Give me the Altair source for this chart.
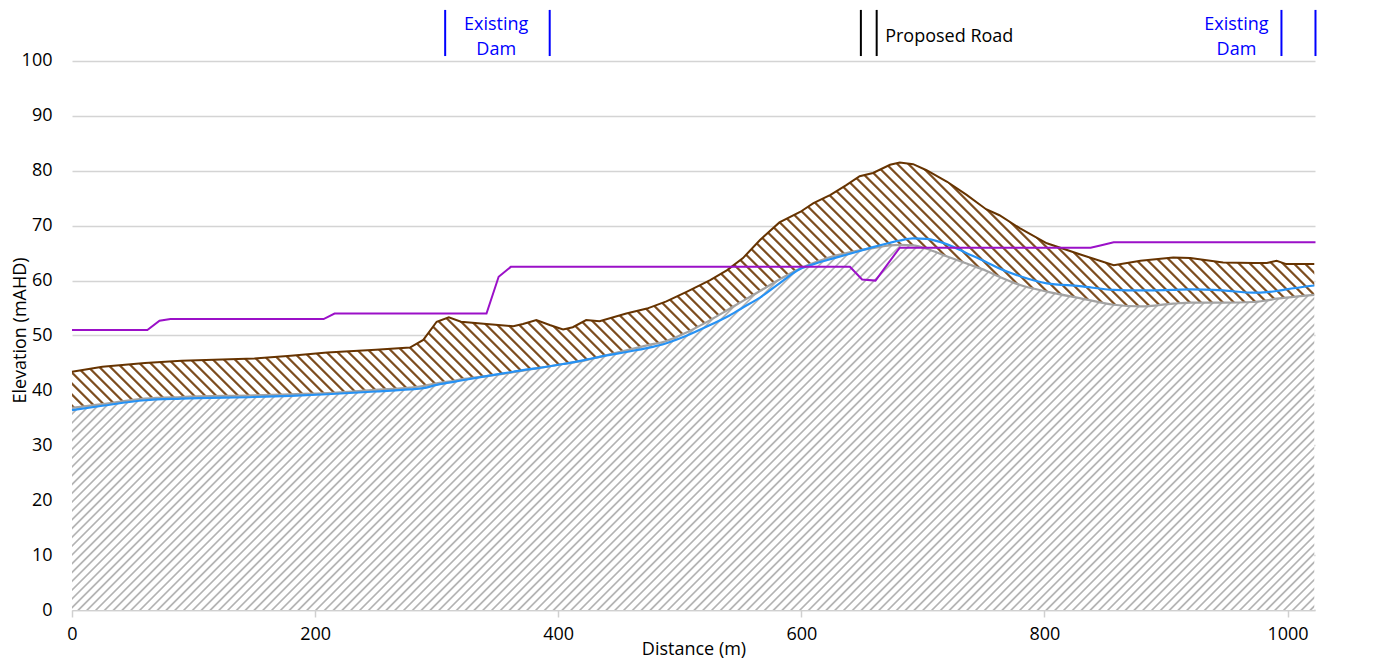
import math
import altair as alt
import pandas as pd

# ---------------- data ----------------
distance = [0, 25, 60, 90, 150, 180, 210, 250, 278, 289, 300, 310, 320, 341, 363, 371,
            382, 393, 404, 412, 423, 434, 456, 473, 489, 506, 525, 539, 552, 566, 582,
            599, 610, 624, 637, 648, 659, 673, 681, 692, 703, 720, 736, 752, 763, 780,
            802, 829, 857, 879, 906, 920, 947, 972, 983, 991, 999, 1022]
top_surface = [43.4, 44.3, 45.0, 45.4, 45.8, 46.3, 46.9, 47.4, 47.8, 49.2, 52.5, 53.3, 52.5,
               52.1, 51.7, 52.1, 52.8, 51.9, 51.1, 51.5, 52.8, 52.6, 54.0, 54.9, 56.2, 58.0,
               60.1, 61.9, 64.1, 67.4, 70.6, 72.5, 74.1, 75.6, 77.4, 79.0, 79.6, 81.1, 81.5,
               81.2, 80.1, 78.0, 75.6, 73.0, 71.9, 69.5, 66.8, 64.8, 62.8, 63.6, 64.2, 64.1,
               63.3, 63.2, 63.2, 63.6, 63.0, 63.0]
existing_ground = [36.8, 37.5, 38.5, 38.8, 39.1, 39.3, 39.5, 40.1, 40.5, 40.8, 41.3, 41.6,
                   42.0, 42.6, 43.3, 43.6, 44.0, 44.4, 44.8, 45.1, 45.5, 46.1, 47.3, 48.2,
                   49.0, 50.6, 52.8, 54.6, 56.3, 58.1, 60.2, 62.2, 63.2, 64.3, 65.0, 65.5,
                   65.9, 66.4, 66.5, 66.4, 65.8, 64.4, 63.1, 61.8, 60.7, 59.2, 58.0, 56.8,
                   55.6, 55.3, 55.8, 56.0, 56.0, 56.1, 56.4, 56.7, 56.9, 57.4]
water_level = [36.4, 37.2, 38.2, 38.5, 38.8, 39.0, 39.3, 39.8, 40.2, 40.4, 41.0, 41.4, 41.8,
               42.6, 43.4, 43.7, 44.0, 44.4, 44.8, 45.1, 45.6, 46.1, 47.0, 47.7, 48.6, 50.0,
               51.9, 53.4, 55.1, 56.9, 59.5, 62.1, 63.0, 63.9, 64.7, 65.4, 66.1, 66.9, 67.3,
               67.7, 67.6, 66.6, 65.0, 63.4, 62.2, 60.8, 59.5, 59.0, 58.3, 58.2, 58.3, 58.4,
               58.2, 57.8, 57.9, 58.1, 58.4, 59.1]
design_distance = [0, 62, 72, 81, 207, 216, 341, 351, 361, 640, 650, 661, 681, 838, 846, 857, 1023]
design_level = [51.0, 51.0, 52.7, 53.0, 53.0, 54.0, 54.0, 60.7, 62.5, 62.5, 60.2, 60.0, 66.0,
                66.0, 66.4, 67.0, 67.0]

dam_marker_x = [307, 393, 995, 1023]
road_marker_x = [649, 662]
dam_label_x = [349, 958]
dam_label_text = ["Existing\nDam", "Existing\nDam"]
road_label_x = [669]
road_label_text = ["Proposed Road"]
x_ticks = [0, 200, 400, 600, 800, 1000]
y_ticks = [0, 10, 20, 30, 40, 50, 60, 70, 80, 90, 100]

# ---------------- layout ----------------
X_MAX = 1022.6
Y_MAX = 109.65
W, H = 1243, 602
PX_X = W / X_MAX
PX_Y = H / Y_MAX
FONT = "Open Sans"

profile = pd.DataFrame({"dist": distance, "surface": top_surface,
                        "ground": existing_ground, "water": water_level})
design = pd.DataFrame({"dist": design_distance, "level": design_level})


def hatch(w, h, period, ink, soft, core, rising):
    span = w + h
    n = math.ceil(span / period)
    stops = []
    last = -1.0
    for k in range(n):
        base = k * period
        for f, c in ((0.0, "#ffffff"), (soft, ink), (soft + core, ink),
                     (2 * soft + core, "#ffffff")):
            off = round((base + f * period) / span, 6)
            if off <= 1 and off >= last:
                stops.append(alt.GradientStop(offset=off, color=c))
                last = off
    kk = span / (w * w + h * h)
    if rising:
        return alt.LinearGradient(gradient="linear", stops=stops,
                                  x1=0, y1=0, x2=kk * w, y2=kk * h)
    return alt.LinearGradient(gradient="linear", stops=stops,
                              x1=0, y1=1, x2=kk * w, y2=1 - kk * h)


gw = (max(distance) - min(distance)) * PX_X
gray_h = max(existing_ground) * PX_Y
brown_h = (max(top_surface) - min(existing_ground)) * PX_Y
gray_fill = hatch(gw, gray_h, 8.8, "#b2b2b2", 0.17, 0.1, True)
brown_fill = hatch(gw, brown_h, 11.0, "#7e4e20", 0.13, 0.16, False)

x_scale = alt.Scale(domain=[0, X_MAX], nice=False, zero=False)
y_scale = alt.Scale(domain=[0, Y_MAX], nice=False)
x_axis = alt.Axis(values=x_ticks, title="Distance (m)", grid=False, format="d",
                  domainColor="#d0d0d0", domainWidth=1.5, tickColor="#d0d0d0",
                  tickWidth=1.5, tickSize=7, labelPadding=8, labelFont=FONT,
                  labelFontSize=18, labelColor="#000000", titleFont=FONT,
                  titleFontSize=18, titleFontWeight="normal", titleColor="#000000",
                  titleY=44, titleBaseline="alphabetic", labelFlush=False)
y_axis = alt.Axis(values=y_ticks, title="Elevation (mAHD)", grid=True, gridColor="#d4d4d4",
                  gridWidth=1.5, domain=False, ticks=False, tickSize=0, labelPadding=20,
                  labelFont=FONT, labelFontSize=18, labelColor="#000000", titleFont=FONT,
                  titleFontSize=18, titleFontWeight="normal", titleColor="#000000",
                  titleX=-47, titleY=322, titleAngle=270, titleAlign="center",
                  titleBaseline="alphabetic")


def X(field):
    return alt.X(field, type="quantitative", scale=x_scale, axis=x_axis)


def Y(field):
    return alt.Y(field, type="quantitative", scale=y_scale, axis=y_axis)


base = alt.Chart(profile)
gray_area = base.mark_area(color=gray_fill).encode(x=X("dist"), y=Y("ground"))
brown_area = base.mark_area(color=brown_fill).encode(x=X("dist"), y=Y("surface"), y2="ground")
gray_line = base.mark_line(color="#a3a3a3", strokeWidth=2.2, interpolate="monotone").encode(
    x=X("dist"), y=Y("ground"))
brown_line = base.mark_line(color="#663300", strokeWidth=2).encode(x=X("dist"), y=Y("surface"))
blue_line = base.mark_line(color="#2692f5", strokeWidth=2.2, interpolate="monotone").encode(
    x=X("dist"), y=Y("water"))
purple_line = alt.Chart(design).mark_line(color="#9b10c8", strokeWidth=2).encode(
    x=X("dist"), y=Y("level"))

dam_rules = alt.Chart(pd.DataFrame({"x": dam_marker_x})).mark_rule(
    color="#0000ff", strokeWidth=2, clip=False).encode(
    x=X("x"), y=alt.datum(100.9, scale=y_scale), y2=alt.datum(109.3))
road_rules = alt.Chart(pd.DataFrame({"x": road_marker_x})).mark_rule(
    color="#000000", strokeWidth=2, clip=False).encode(
    x=X("x"), y=alt.datum(100.9, scale=y_scale), y2=alt.datum(109.3))
dam_text = alt.Chart(pd.DataFrame({"x": dam_label_x, "t": dam_label_text})).mark_text(
    font=FONT, fontSize=18, color="#0000ff", align="center", baseline="alphabetic",
    lineBreak="\n", lineHeight=25).encode(x=X("x"), y=alt.datum(105.7, scale=y_scale), text="t:N")
road_text = alt.Chart(pd.DataFrame({"x": road_label_x, "t": road_label_text})).mark_text(
    font=FONT, fontSize=18, color="#000000", align="left", baseline="alphabetic").encode(
    x=X("x"), y=alt.datum(103.4, scale=y_scale), text="t:N")

chart = alt.layer(gray_area, brown_area, gray_line, brown_line, blue_line, purple_line,
                  dam_rules, road_rules, dam_text, road_text).properties(
    width=W, height=H,
    padding={"left": 64, "top": 0, "right": 50, "bottom": 50},
    autosize=alt.AutoSizeParams(type="none"),
    background="#ffffff",
).configure_view(stroke=None)

chart.save("out.html", embed_options={"renderer": "svg", "actions": False})
